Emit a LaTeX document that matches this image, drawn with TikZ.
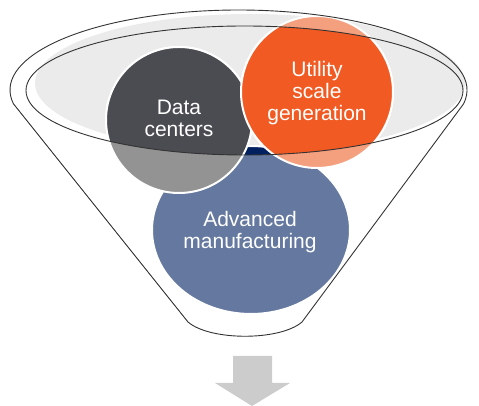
\documentclass[tikz,border=0pt]{standalone}
\usepackage{fontspec}
\setmainfont{Liberation Sans}
\definecolor{funnelgray}{HTML}{EBEBEB}
\definecolor{arrowgray}{HTML}{CCCCCC}
\definecolor{litedc}{HTML}{939393}
\definecolor{darkdc}{HTML}{4B4C51}
\definecolor{liteus}{HTML}{F4A07F}
\definecolor{darkus}{HTML}{F15A22}
\definecolor{litemfg}{HTML}{6478A0}
\definecolor{darkmfg}{HTML}{002060}
\begin{document}
\begin{tikzpicture}[x=1pt,y=1pt,
    rim/.style={draw=black!80,line width=0.9pt},
    ring/.style={draw=white,line width=2pt},
    bubbletext/.style={text=white,align=center,font=\fontsize{21}{22}\selectfont}]
  \useasboundingbox (0,0) rectangle (479,406);
  \fill[funnelgray] (250,323) ellipse[x radius=215,y radius=69];
  % bubbles, pale outside the rim, full colour inside it
  \foreach \cx/\cy/\rx/\ry/\col in {251/176/99/84/mfg, 179/286/73/73/dc, 317/314/76/76/us}
    \path[ring,fill=lite\col] (\cx,\cy) ellipse[x radius=\rx,y radius=\ry];
  \begin{scope}
    \clip (244.5,315.5) ellipse[x radius=218.5,y radius=64.5];
    \foreach \cx/\cy/\rx/\ry/\col in {251/176/99/84/mfg, 179/286/73/73/dc, 317/314/76/76/us}
      \path[ring,fill=dark\col] (\cx,\cy) ellipse[x radius=\rx,y radius=\ry];
  \end{scope}
  \draw[rim] (244.5,315.5) ellipse[x radius=218.5,y radius=64.5];
  \draw[rim,line join=round] (13.5,302.1)
      arc[start angle=190,end angle=-10,x radius=228.5,y radius=80]
      -- (302,84) .. controls (280,65) and (210,65) .. (188,84) -- cycle;
  \node[bubbletext] (dc) at (179,288) {Data\\centers};
  \node[bubbletext] (us) at (317,313) {Utility\\scale\\generation};
  \node[bubbletext] (mfg) at (250,174) {Advanced\\manufacturing};
  \fill[arrowgray] (233,50) -- (272,50) -- (272,23) -- (290,23) -- (252,0)
      -- (215,23) -- (233,23) -- cycle;
\end{tikzpicture}
\end{document}
